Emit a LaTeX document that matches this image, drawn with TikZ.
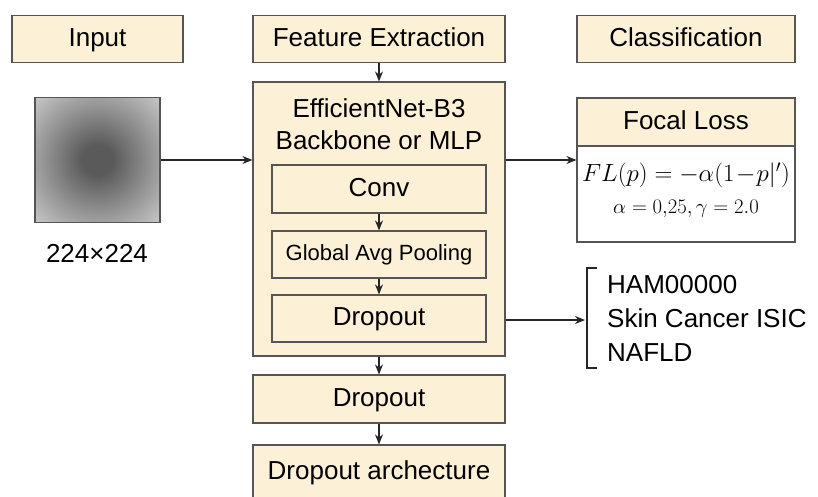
\documentclass[tikz,border=0pt]{standalone}
\usepackage{fontspec}
\setmainfont{Liberation Sans}
\usetikzlibrary{arrows.meta}
\definecolor{cream}{RGB}{252,241,215}
\definecolor{edgec}{RGB}{85,85,85}
\definecolor{imgdark}{RGB}{90,90,90}
\definecolor{imgmid}{RGB}{150,150,150}
\definecolor{imglight}{RGB}{216,216,216}
\pgfdeclareradialshading{imgshade}{\pgfpoint{0bp}{0bp}}{color(0bp)=(imgdark); color(6bp)=(imgdark); color(22bp)=(imgmid); color(40bp)=(imglight); color(50bp)=(imglight)}
\begin{document}
\begin{tikzpicture}[x=1pt,y=-1pt,
  box/.style={draw=edgec, line width=1.2pt, fill=cream, inner sep=0pt, text height=19pt, text depth=5pt, font=\fontsize{26}{30}\selectfont},
  arr/.style={-{Stealth[length=10pt,width=8pt]}, line width=1.3pt, draw=black!85},
  plain/.style={inner sep=0pt, font=\fontsize{26}{30}\selectfont}]
\path[use as bounding box, fill=white] (0,0) rectangle (818,496);
% headers
\node[box, minimum width=171, minimum height=47] (input) at (97.5,39) {Input};
\node[box, minimum width=252, minimum height=47] (feat) at (379,39) {Feature Extraction};
\node[box, minimum width=218, minimum height=47] (cls) at (686,39) {Classification};
% input image
\node[draw=edgec, line width=1.2pt, minimum size=125, inner sep=0pt, shading=imgshade] (img) at (97.5,160) {};
\node[plain] (size) at (97,253) {224×224};
% backbone
\node[box, minimum width=252, minimum height=274] (big) at (379,219) {};
\node[plain, align=center, font=\fontsize{26}{32}\selectfont] (title) at (379,124) {EfficientNet-B3\\Backbone or MLP};
\node[box, minimum width=214, minimum height=48] (conv) at (379,189) {Conv};
\node[box, minimum width=214, minimum height=47, text height=16pt, text depth=5pt, font=\fontsize{22}{26}\selectfont] (gap) at (379,254.5) {Global Avg Pooling};
\node[box, minimum width=214, minimum height=47] (drop1) at (379,318.5) {Dropout};
\node[box, minimum width=252, minimum height=48] (drop2) at (379,399) {Dropout};
\node[box, minimum width=252, minimum height=54] (arch) at (379,472) {Dropout archecture};
% focal loss
\node[draw=edgec, line width=1.2pt, fill=white, minimum width=218, minimum height=144, inner sep=0pt] (focal) at (686,170) {};
\node[box, minimum width=218, minimum height=48] (focalhead) at (686,122) {Focal Loss};
\node[inner sep=0pt, font=\fontsize{24}{28}\selectfont] (formula) at (686,175) {$FL(p) = -\alpha(1\!-\!p|')$};
\node[inner sep=0pt, font=\fontsize{20}{24}\selectfont] (params) at (686,209) {$\alpha = 0{,}25, \gamma = 2.0$};
% datasets
\node[plain, anchor=west, align=left, font=\fontsize{26}{34}\selectfont] (data) at (607,318) {HAM00000\\Skin Cancer ISIC\\NAFLD};
\coordinate (brk) at (585,320);
\draw[line width=1.3pt, black!85] (597,268) -- (587,268) -- (587,368) -- (597,368);
% arrows
\draw[arr] (feat.south) -- (big.north);
\draw[arr] (conv.south) -- (gap.north);
\draw[arr] (gap.south) -- (drop1.north);
\draw[arr] (big.south) -- (drop2.north);
\draw[arr] (drop2.south) -- (arch.north);
\draw[arr] (img.east) -- (img.east -| big.west);
\draw[arr] (big.east |- img.east) -- (focal.west |- img.east);
\draw[arr] (big.east |- brk) -- (brk);
\end{tikzpicture}
\end{document}
